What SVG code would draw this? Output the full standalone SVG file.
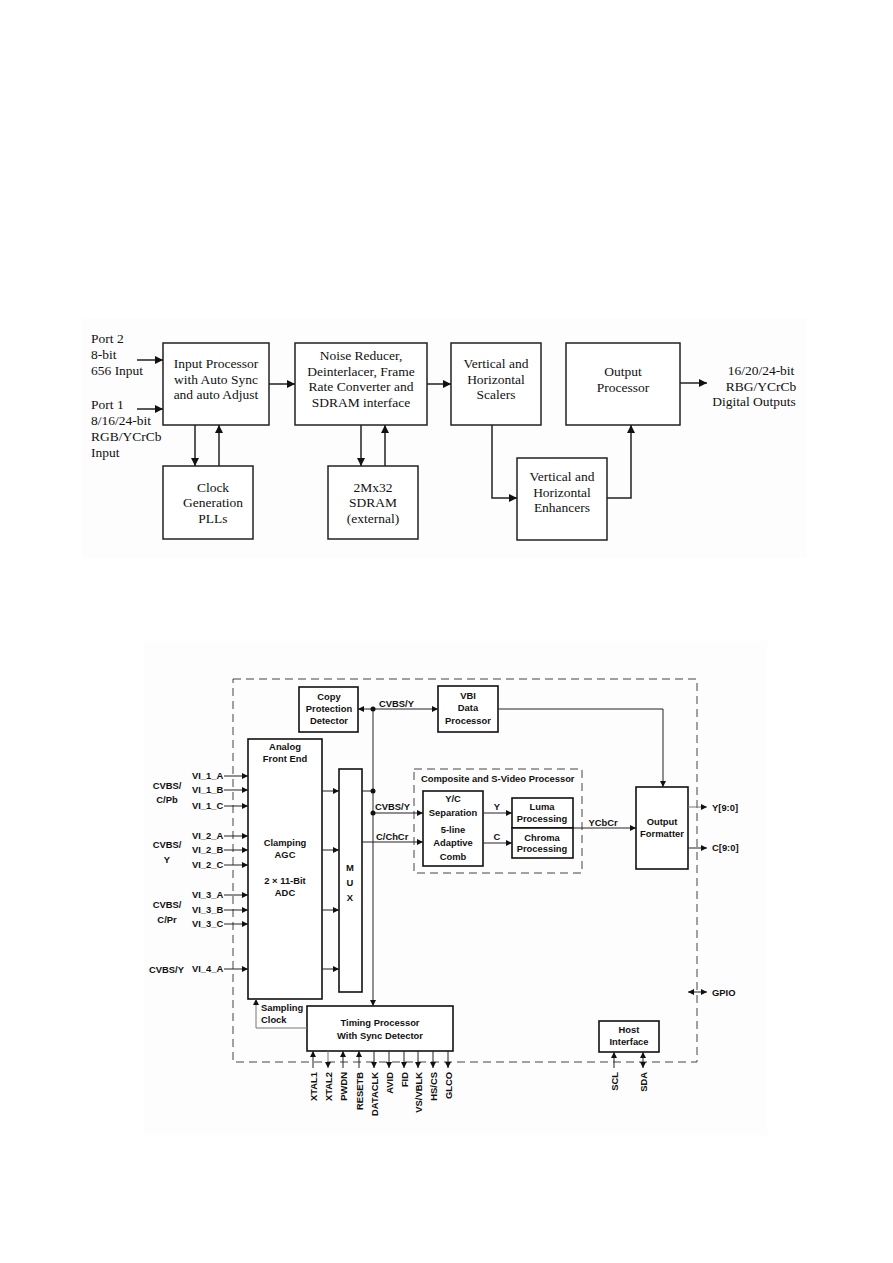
<svg xmlns="http://www.w3.org/2000/svg" width="893" height="1263" viewBox="0 0 893 1263">
<defs>
<marker id="ah" viewBox="0 0 10 10" refX="10" refY="5" markerWidth="10" markerHeight="8" markerUnits="userSpaceOnUse" orient="auto"><path d="M0,0 L10,5 L0,10 z" fill="#111"/></marker>
<marker id="ahs" viewBox="0 0 10 10" refX="10" refY="5" markerWidth="7" markerHeight="6" markerUnits="userSpaceOnUse" orient="auto"><path d="M0,0 L10,5 L0,10 z" fill="#111"/></marker>
<marker id="ahsr" viewBox="0 0 10 10" refX="0" refY="5" markerWidth="7" markerHeight="6" markerUnits="userSpaceOnUse" orient="auto"><path d="M10,0 L0,5 L10,10 z" fill="#111"/></marker>
</defs>
<style>
.bg{fill:#fdfdfd;stroke:none}
.tb{fill:#fff;stroke:#222;stroke-width:1.5}
.tt{font-family:"Liberation Serif","Times New Roman",serif;font-size:13.5px;fill:#111;text-anchor:middle}
.tl{font-family:"Liberation Serif","Times New Roman",serif;font-size:13.5px;fill:#111}
.tc{fill:none;stroke:#222;stroke-width:1.5}
.bb{fill:#fff;stroke:#111;stroke-width:1.6}
.bt{font-family:"Liberation Sans",Arial,sans-serif;font-weight:bold;font-size:9.4px;fill:#111;text-anchor:middle}
.bl{font-family:"Liberation Sans",Arial,sans-serif;font-weight:bold;font-size:9.4px;fill:#111}
.bc{fill:none;stroke:#222;stroke-width:1}
.gc{fill:none;stroke:#777;stroke-width:1}
.dash{fill:none;stroke:#444;stroke-width:1;stroke-dasharray:8,5}
.dot{fill:#111}
</style>
<rect class="bg" x="82" y="318" width="725" height="240"/>
<rect class="bg" x="144" y="641" width="623" height="494"/>

<!-- ===== Top diagram ===== -->
<g id="top-labels">
<text class="tl" x="91" y="343">Port 2</text>
<text class="tl" x="91" y="359">8-bit</text>
<text class="tl" x="91" y="375">656 Input</text>
<text class="tl" x="91" y="409">Port 1</text>
<text class="tl" x="91" y="425">8/16/24-bit</text>
<text class="tl" x="91" y="441">RGB/YCrCb</text>
<text class="tl" x="91" y="457">Input</text>
<text class="tt" x="761" y="375">16/20/24-bit</text>
<text class="tt" x="761" y="391">RBG/YCrCb</text>
<text class="tt" x="754" y="406">Digital Outputs</text>
</g>
<g id="input-processor">
<rect class="tb" x="163" y="343" width="106" height="82"/>
<text class="tt" x="216" y="368">Input Processor</text>
<text class="tt" x="216" y="384">with Auto Sync</text>
<text class="tt" x="216" y="399">and auto Adjust</text>
</g>
<g id="noise-reducer">
<rect class="tb" x="295" y="343" width="132" height="82"/>
<text class="tt" x="361" y="360">Noise Reducer,</text>
<text class="tt" x="361" y="376">Deinterlacer, Frame</text>
<text class="tt" x="361" y="391">Rate Converter and</text>
<text class="tt" x="361" y="407">SDRAM interface</text>
</g>
<g id="scalers">
<rect class="tb" x="451" y="343" width="90" height="82"/>
<text class="tt" x="496" y="368">Vertical and</text>
<text class="tt" x="496" y="384">Horizontal</text>
<text class="tt" x="496" y="399">Scalers</text>
</g>
<g id="output-processor">
<rect class="tb" x="566" y="343" width="114" height="82"/>
<text class="tt" x="623" y="376">Output</text>
<text class="tt" x="623" y="392">Processor</text>
</g>
<g id="clock-generation">
<rect class="tb" x="163" y="466" width="90" height="73"/>
<text class="tt" x="213" y="492">Clock</text>
<text class="tt" x="213" y="507">Generation</text>
<text class="tt" x="213" y="523">PLLs</text>
</g>
<g id="sdram">
<rect class="tb" x="328" y="466" width="90" height="73"/>
<text class="tt" x="373" y="492">2Mx32</text>
<text class="tt" x="373" y="507">SDRAM</text>
<text class="tt" x="373" y="523">(external)</text>
</g>
<g id="enhancers">
<rect class="tb" x="517" y="458" width="90" height="82"/>
<text class="tt" x="562" y="481">Vertical and</text>
<text class="tt" x="562" y="497">Horizontal</text>
<text class="tt" x="562" y="512">Enhancers</text>
</g>
<g id="top-connectors">
<line class="tc" x1="137" y1="360" x2="163" y2="360" marker-end="url(#ah)"/>
<line class="tc" x1="137" y1="409" x2="163" y2="409" marker-end="url(#ah)"/>
<line class="tc" x1="269" y1="384" x2="295" y2="384" marker-end="url(#ah)"/>
<line class="tc" x1="427" y1="384" x2="451" y2="384" marker-end="url(#ah)"/>
<line class="tc" x1="680" y1="383" x2="707" y2="383" marker-end="url(#ah)"/>
<line class="tc" x1="195" y1="425" x2="195" y2="466" marker-end="url(#ah)"/>
<line class="tc" x1="219" y1="466" x2="219" y2="425" marker-end="url(#ah)"/>
<line class="tc" x1="361" y1="425" x2="361" y2="466" marker-end="url(#ah)"/>
<line class="tc" x1="385" y1="466" x2="385" y2="425" marker-end="url(#ah)"/>
<polyline class="tc" points="492,425 492,498 517,498" marker-end="url(#ah)"/>
<polyline class="tc" points="607,498 631,498 631,425" marker-end="url(#ah)"/>
</g>

<!-- ===== Bottom diagram ===== -->
<rect class="dash" x="233" y="679" width="464" height="383"/>
<rect class="dash" x="414" y="769" width="168" height="104"/>
<text class="bl" x="421" y="782">Composite and S-Video Processor</text>

<g id="labels-inputs">
<text class="bt" x="167" y="789">CVBS/</text>
<text class="bt" x="167" y="803">C/Pb</text>
<text class="bt" x="167" y="848">CVBS/</text>
<text class="bt" x="167" y="863">Y</text>
<text class="bt" x="167" y="908">CVBS/</text>
<text class="bt" x="167" y="923">C/Pr</text>
<text class="bl" x="149" y="973">CVBS/Y</text>
<text class="bl" x="192" y="779">VI_1_A</text>
<text class="bl" x="192" y="793">VI_1_B</text>
<text class="bl" x="192" y="809">VI_1_C</text>
<text class="bl" x="192" y="839">VI_2_A</text>
<text class="bl" x="192" y="853">VI_2_B</text>
<text class="bl" x="192" y="868">VI_2_C</text>
<text class="bl" x="192" y="898">VI_3_A</text>
<text class="bl" x="192" y="913">VI_3_B</text>
<text class="bl" x="192" y="927">VI_3_C</text>
<text class="bl" x="192" y="972">VI_4_A</text>
</g>

<g id="copy-protection">
<rect class="bb" x="299" y="687" width="59" height="45"/>
<text class="bt" x="329" y="700">Copy</text>
<text class="bt" x="329" y="712">Protection</text>
<text class="bt" x="329" y="724">Detector</text>
</g>
<g id="vbi">
<rect class="bb" x="438" y="686" width="60" height="46"/>
<text class="bt" x="468" y="699">VBI</text>
<text class="bt" x="468" y="711">Data</text>
<text class="bt" x="468" y="724">Processor</text>
</g>
<g id="analog-front-end">
<rect class="bb" x="248" y="739" width="74" height="260"/>
<text class="bt" x="285" y="750">Analog</text>
<text class="bt" x="285" y="762">Front End</text>
<text class="bt" x="285" y="846">Clamping</text>
<text class="bt" x="285" y="858">AGC</text>
<text class="bt" x="285" y="884">2 × 11-Bit</text>
<text class="bt" x="285" y="896">ADC</text>
</g>
<g id="mux">
<rect class="bb" x="339" y="769" width="23" height="223"/>
<text class="bt" x="350" y="871">M</text>
<text class="bt" x="350" y="886">U</text>
<text class="bt" x="350" y="901">X</text>
</g>
<g id="yc-separation">
<rect class="bb" x="423" y="791" width="60" height="75"/>
<text class="bt" x="453" y="802">Y/C</text>
<text class="bt" x="453" y="816">Separation</text>
<text class="bt" x="453" y="833">5-line</text>
<text class="bt" x="453" y="846">Adaptive</text>
<text class="bt" x="453" y="860">Comb</text>
</g>
<g id="luma">
<rect class="bb" x="512" y="798" width="61" height="30"/>
<text class="bt" x="542" y="810">Luma</text>
<text class="bt" x="542" y="822">Processing</text>
</g>
<g id="chroma">
<rect class="bb" x="512" y="828" width="61" height="30"/>
<text class="bt" x="542" y="841">Chroma</text>
<text class="bt" x="542" y="852">Processing</text>
</g>
<g id="output-formatter">
<rect class="bb" x="636" y="787" width="52" height="82"/>
<text class="bt" x="662" y="825">Output</text>
<text class="bt" x="662" y="837">Formatter</text>
</g>
<g id="timing-processor">
<rect class="bb" x="307" y="1006" width="146" height="45"/>
<text class="bt" x="380" y="1026">Timing Processor</text>
<text class="bt" x="380" y="1039">With Sync Detector</text>
</g>
<g id="host-interface">
<rect class="bb" x="599" y="1021" width="60" height="31"/>
<text class="bt" x="629" y="1033">Host</text>
<text class="bt" x="629" y="1045">Interface</text>
</g>

<g id="bottom-connectors">
<line class="bc" x1="224" y1="776" x2="248" y2="776" marker-end="url(#ahs)"/>
<line class="bc" x1="224" y1="790" x2="248" y2="790" marker-end="url(#ahs)"/>
<line class="bc" x1="224" y1="806" x2="248" y2="806" marker-end="url(#ahs)"/>
<line class="bc" x1="224" y1="836" x2="248" y2="836" marker-end="url(#ahs)"/>
<line class="bc" x1="224" y1="850" x2="248" y2="850" marker-end="url(#ahs)"/>
<line class="bc" x1="224" y1="865" x2="248" y2="865" marker-end="url(#ahs)"/>
<line class="bc" x1="224" y1="895" x2="248" y2="895" marker-end="url(#ahs)"/>
<line class="bc" x1="224" y1="910" x2="248" y2="910" marker-end="url(#ahs)"/>
<line class="bc" x1="224" y1="924" x2="248" y2="924" marker-end="url(#ahs)"/>
<line class="bc" x1="224" y1="969" x2="248" y2="969" marker-end="url(#ahs)"/>
<line class="bc" x1="322" y1="791" x2="339" y2="791" marker-end="url(#ahs)"/>
<line class="bc" x1="322" y1="850" x2="339" y2="850" marker-end="url(#ahs)"/>
<line class="bc" x1="322" y1="910" x2="339" y2="910" marker-end="url(#ahs)"/>
<line class="bc" x1="322" y1="969" x2="339" y2="969" marker-end="url(#ahs)"/>
<line class="bc" x1="362" y1="791" x2="373" y2="791"/>
<line class="bc" x1="373" y1="709" x2="373" y2="1006" marker-end="url(#ahs)"/>
<line class="bc" x1="373" y1="709" x2="358" y2="709" marker-end="url(#ahs)"/>
<line class="bc" x1="373" y1="709" x2="438" y2="709" marker-end="url(#ahs)"/>
<line class="bc" x1="373" y1="813" x2="423" y2="813" marker-end="url(#ahs)"/>
<line class="bc" x1="362" y1="842" x2="423" y2="842" marker-end="url(#ahs)"/>
<circle class="dot" cx="373" cy="709" r="2.5"/>
<circle class="dot" cx="373" cy="791" r="2.5"/>
<circle class="dot" cx="373" cy="813" r="2.5"/>
<text class="bl" x="379" y="707">CVBS/Y</text>
<text class="bl" x="375" y="810">CVBS/Y</text>
<text class="bl" x="376" y="840">C/ChCr</text>
<polyline class="bc" points="498,709 663,709 663,787" marker-end="url(#ahs)"/>
<line class="bc" x1="483" y1="813" x2="512" y2="813" marker-end="url(#ahs)"/>
<line class="bc" x1="483" y1="843" x2="512" y2="843" marker-end="url(#ahs)"/>
<text class="bt" x="497" y="810">Y</text>
<text class="bt" x="497" y="840">C</text>
<line class="bc" x1="573" y1="828" x2="636" y2="828" marker-end="url(#ahs)"/>
<text class="bt" x="603" y="826">YCbCr</text>
<line class="gc" x1="688" y1="807" x2="707" y2="807" marker-end="url(#ahs)"/>
<line class="bc" x1="688" y1="848" x2="707" y2="848" marker-end="url(#ahs)"/>
<text class="bl" x="712" y="811">Y[9:0]</text>
<text class="bl" x="712" y="851">C[9:0]</text>
<line class="bc" x1="688" y1="992" x2="707" y2="992" marker-start="url(#ahsr)" marker-end="url(#ahs)"/>
<text class="bl" x="712" y="996">GPIO</text>
<polyline class="gc" points="307,1028 256,1028 256,999" marker-end="url(#ahs)"/>
<text class="bl" x="261" y="1011">Sampling</text>
<text class="bl" x="261" y="1023">Clock</text>
<line class="bc" x1="313" y1="1068" x2="313" y2="1051" marker-end="url(#ahs)"/>
<line class="gc" x1="328" y1="1051" x2="328" y2="1068" marker-end="url(#ahs)"/>
<line class="bc" x1="343" y1="1068" x2="343" y2="1051" marker-end="url(#ahs)"/>
<line class="bc" x1="359" y1="1068" x2="359" y2="1051" marker-end="url(#ahs)"/>
<line class="bc" x1="374" y1="1051" x2="374" y2="1068" marker-end="url(#ahs)"/>
<line class="bc" x1="389" y1="1051" x2="389" y2="1068" marker-end="url(#ahs)"/>
<line class="bc" x1="404" y1="1051" x2="404" y2="1068" marker-end="url(#ahs)"/>
<line class="bc" x1="418" y1="1051" x2="418" y2="1068" marker-end="url(#ahs)"/>
<line class="bc" x1="433" y1="1051" x2="433" y2="1068" marker-end="url(#ahs)"/>
<line class="bc" x1="448" y1="1051" x2="448" y2="1068" marker-end="url(#ahs)"/>
<line class="bc" x1="614" y1="1068" x2="614" y2="1052" marker-end="url(#ahs)"/>
<line class="bc" x1="643" y1="1068" x2="643" y2="1052" marker-start="url(#ahsr)" marker-end="url(#ahs)"/>
</g>
<g id="pin-labels">
<text class="bl" text-anchor="end" transform="translate(316.5,1072) rotate(-90)">XTAL1</text>
<text class="bl" text-anchor="end" transform="translate(331.5,1072) rotate(-90)">XTAL2</text>
<text class="bl" text-anchor="end" transform="translate(346.5,1072) rotate(-90)">PWDN</text>
<text class="bl" text-anchor="end" transform="translate(362.5,1072) rotate(-90)">RESETB</text>
<text class="bl" text-anchor="end" transform="translate(377.5,1072) rotate(-90)">DATACLK</text>
<text class="bl" text-anchor="end" transform="translate(392.5,1072) rotate(-90)">AVID</text>
<text class="bl" text-anchor="end" transform="translate(407.5,1072) rotate(-90)">FID</text>
<text class="bl" text-anchor="end" transform="translate(421.5,1072) rotate(-90)">VS/VBLK</text>
<text class="bl" text-anchor="end" transform="translate(436.5,1072) rotate(-90)">HS/CS</text>
<text class="bl" text-anchor="end" transform="translate(451.5,1072) rotate(-90)">GLCO</text>
<text class="bl" text-anchor="end" transform="translate(617.5,1072) rotate(-90)">SCL</text>
<text class="bl" text-anchor="end" transform="translate(646.5,1072) rotate(-90)">SDA</text>
</g>
</svg>
